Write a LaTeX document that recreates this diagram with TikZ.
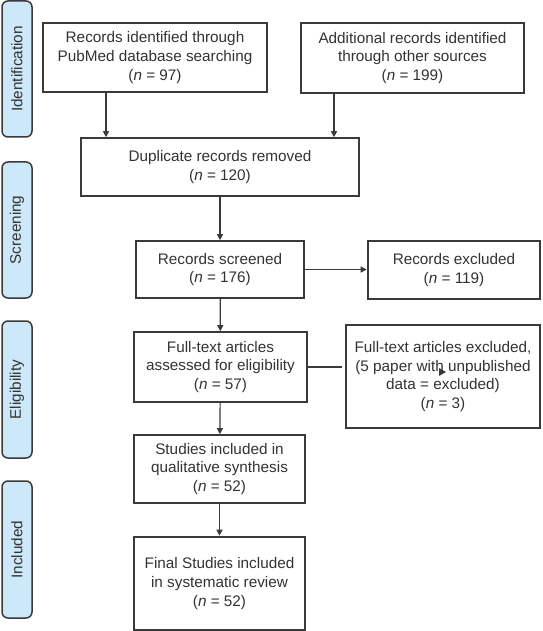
\documentclass[tikz,border=0pt]{standalone}
\usepackage{fontspec}
\setmainfont{Liberation Sans}
\usetikzlibrary{arrows.meta}
\definecolor{txt}{HTML}{333333}
\definecolor{edge}{HTML}{3A3A3A}
\definecolor{side}{HTML}{CDE8F9}
\tikzset{
  flowbox/.style={draw=edge, line width=1.6pt, fill=white, align=center, text=txt,
    font=\fontsize{15.3pt}{18.7pt}\selectfont, inner sep=0pt},
  thickbox/.style={flowbox, line width=2.6pt},
  phase/.style={draw=edge, line width=1.5pt, fill=side, rounded corners=6pt,
    minimum width=30pt, text=txt, font=\fontsize{15.3pt}{18.7pt}\selectfont,
    inner sep=0pt},
  phasetext/.style={rotate=90, text=txt, font=\fontsize{15.3pt}{18.7pt}\selectfont},
  arr/.style={draw=edge, line width=1.2pt, -{Triangle[length=6pt,width=6pt]}},
  ln/.style={draw=edge, line width=1.2pt}
}
\begin{document}
\begin{tikzpicture}[x=1pt,y=-1pt]
\useasboundingbox (0,0) rectangle (542,631);
% phase side bars
\node[phase, minimum height=136pt] (pid) at (17,69) {};
\node[phasetext] (tid) at (pid.center) {Identification};
\node[phase, minimum height=136pt] (psc) at (17,230) {};
\node[phasetext] (tsc) at (psc.center) {Screening};
\node[phase, minimum height=137pt] (pel) at (17,389.5) {};
\node[phasetext] (tel) at (pel.center) {Eligibility};
\node[phase, minimum height=137pt] (pin) at (17,549.5) {};
\node[phasetext] (tin) at (pin.center) {Included};
% boxes
\node[flowbox, minimum width=224pt, minimum height=69pt] (id1) at (155,57.5)
  {Records identified through\\PubMed database searching\\(\textit{n} = 97)};
\node[flowbox, minimum width=223pt, minimum height=70pt] (id2) at (412.5,58)
  {Additional records identified\\through other sources\\(\textit{n} = 199)};
\node[flowbox, minimum width=278pt, minimum height=58pt] (dup) at (220,167)
  {Duplicate records removed\\(\textit{n} = 120)};
\node[flowbox, minimum width=168pt, minimum height=57pt] (scr) at (220,269.5)
  {Records screened\\(\textit{n} = 176)};
\node[thickbox, minimum width=172pt, minimum height=58pt] (rexc) at (454,270)
  {Records excluded\\(\textit{n} = 119)};
\node[flowbox, minimum width=173pt, minimum height=70pt] (full) at (220.5,367)
  {Full-text articles\\assessed for eligibility\\(\textit{n} = 57)};
\node[thickbox, minimum width=194pt, minimum height=103pt] (fexc) at (443,376.5)
  {Full-text articles excluded,\\(5 paper with unpublished\\data = excluded)\\(\textit{n} = 3)};
\node[flowbox, minimum width=171pt, minimum height=68pt] (stud) at (219.5,469)
  {Studies included in\\qualitative synthesis\\(\textit{n} = 52)};
\node[thickbox, minimum width=171pt, minimum height=93pt] (final) at (219.5,583.5)
  {Final Studies included\\in systematic review\\(\textit{n} = 52)};
% connectors
\draw[arr] (id1.south -| 106,0) -- (dup.north -| 106,0);
\draw[arr] (id2.south -| 334,0) -- (dup.north -| 334,0);
\draw[arr] (dup) -- (scr);
\draw[arr] (scr.east) -- (rexc.west |- scr.east);
\draw[arr] (scr) -- (full);
\coordinate (gapend) at (342,367);
\draw[ln] (full.east) -- (gapend);
\coordinate (stray) at (443,372);
\fill[edge] ([shift={(-4,-4)}]stray) -- ([shift={(3,0)}]stray) -- ([shift={(-4,4)}]stray) -- cycle;
\draw[arr] (full) -- (stud);
\draw[arr] (stud) -- (final);
\end{tikzpicture}
\end{document}
